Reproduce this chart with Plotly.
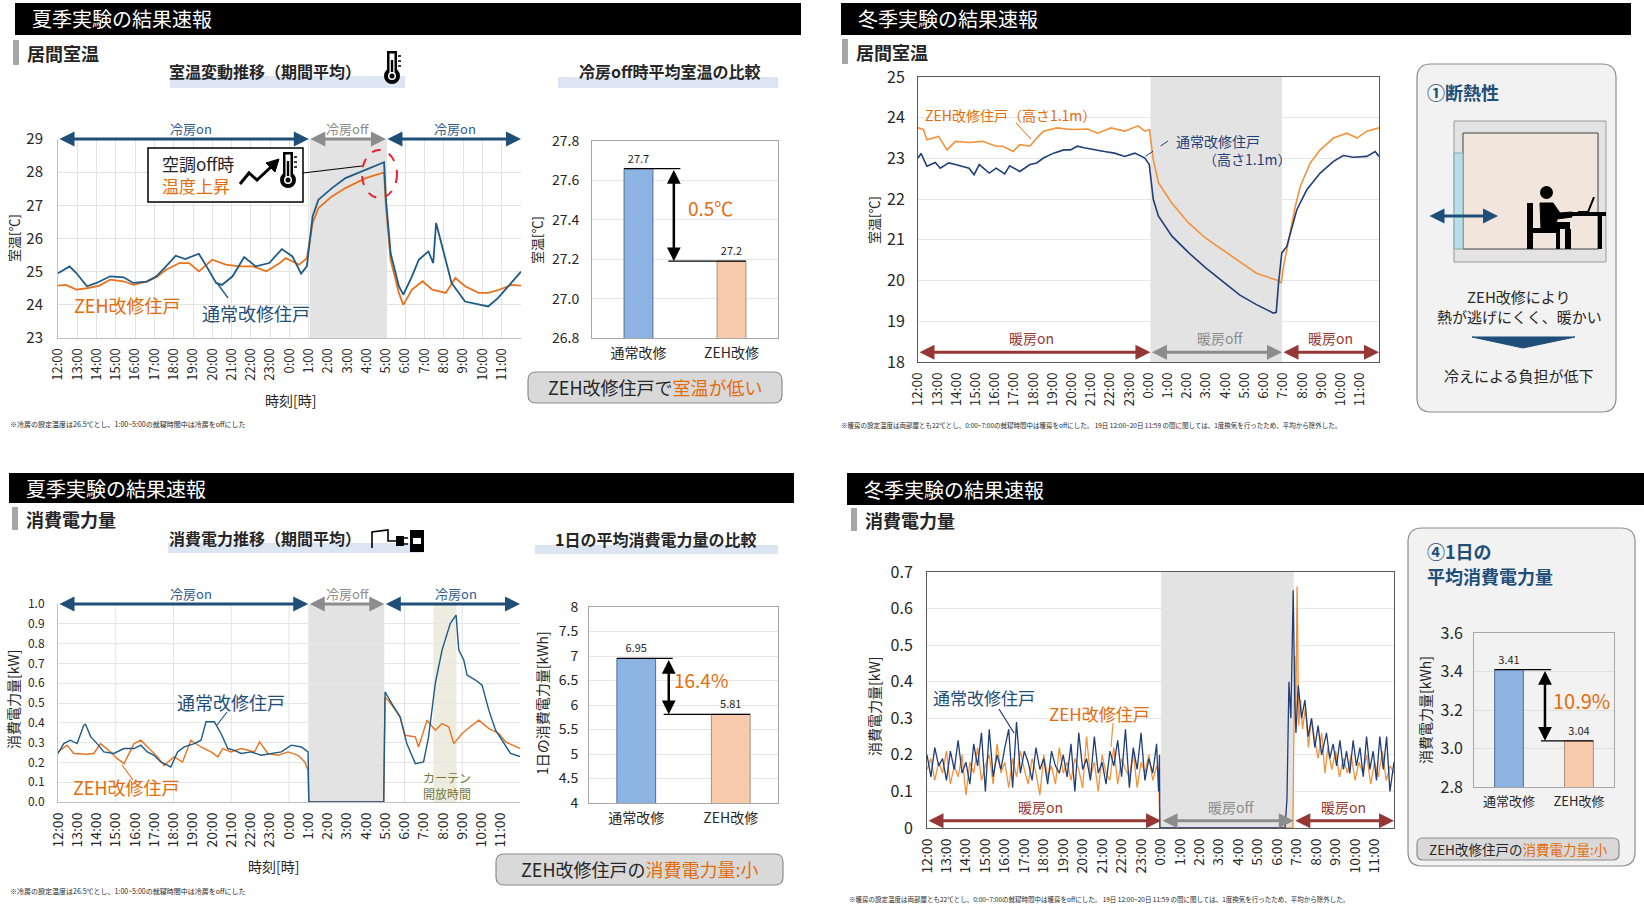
import plotly.graph_objects as go

W, H = 1644, 916
FONT = "Noto Sans CJK JP"
INK = "#262626"

# ---------------- time axis (12:00 -> 11:59 next day) ----------------
hour_ticks = list(range(24))
hour_labels = ["12:00", "13:00", "14:00", "15:00", "16:00", "17:00", "18:00", "19:00",
               "20:00", "21:00", "22:00", "23:00", "0:00", "1:00", "2:00", "3:00",
               "4:00", "5:00", "6:00", "7:00", "8:00", "9:00", "10:00", "11:00"]

# ---------------- summer room temperature [degC] ----------------
s_temp_t_normal = [0, 0.6, 0.95, 1.5, 2.0, 2.7, 3.4, 3.9, 4.6, 5.1, 5.6, 6.1, 6.6, 7.3, 7.7, 8.2,
                   8.5, 9.05, 9.65, 10.25, 10.95, 11.6, 12.15, 12.6, 12.9, 13.2, 13.5, 14.2, 14.9,
                   15.95, 16.9, 17.0, 17.24, 17.67, 17.9, 18.35, 18.7, 19.2, 19.45, 19.6, 19.9,
                   20.4, 21.1, 21.8, 22.3, 22.8, 23.5, 24.0]
s_temp_normal = [24.95, 25.16, 24.96, 24.56, 24.66, 24.86, 24.83, 24.66, 24.7, 24.86, 25.16, 25.48,
                 25.38, 25.54, 25.16, 24.66, 24.6, 24.86, 25.44, 25.16, 25.26, 25.68, 25.46, 24.94,
                 25.16, 26.67, 27.17, 27.52, 27.82, 28.08, 28.3, 27.17, 25.56, 24.56, 24.31, 24.86,
                 25.36, 25.61, 25.26, 26.47, 25.76, 24.66, 24.1, 24.0, 23.95, 24.2, 24.66, 25.0]
s_temp_t_zeh = [0, 0.4, 0.95, 1.5, 2.15, 2.7, 3.4, 3.9, 4.6, 5.1, 5.6, 6.3, 6.8, 7.3, 8.0, 8.7, 9.4,
                10.1, 10.8, 11.5, 11.8, 12.5, 12.9, 13.2, 13.5, 14.2, 14.9, 15.95, 16.9, 17.0,
                17.24, 17.67, 17.9, 18.35, 18.9, 19.4, 20.1, 20.6, 21.1, 21.8, 22.3, 22.8, 23.5, 24.0]
s_temp_zeh = [24.58, 24.6, 24.46, 24.5, 24.58, 24.76, 24.71, 24.6, 24.7, 24.83, 25.06, 25.26, 25.26,
              25.01, 25.36, 25.21, 25.16, 25.16, 25.01, 25.26, 25.41, 25.21, 25.41, 26.47, 26.92,
              27.27, 27.52, 27.82, 27.99, 26.97, 25.36, 24.36, 24.0, 24.46, 24.71, 24.46, 24.36,
              24.81, 24.56, 24.36, 24.36, 24.44, 24.6, 24.58]

# ---------------- winter room temperature at 1.1 m [degC] ----------------
w_temp_t_normal = [0, 0.16, 0.46, 0.9, 1.16, 1.6, 1.95, 2.31, 2.66, 2.92, 3.19, 3.71, 4.07, 4.51,
                   4.77, 5.3, 5.83, 6.18, 6.53, 7.06, 7.59, 7.94, 8.29, 8.64, 9.17, 9.7, 10.23,
                   10.76, 11.29, 11.81, 12.04, 12.25, 12.52, 13.22, 14.1, 14.98, 15.86, 16.74,
                   17.62, 18.5, 18.65, 18.77, 18.94, 19.2, 19.72, 20.24, 20.94, 21.63, 22.14,
                   22.66, 23.37, 23.8, 24.0]
w_temp_normal = [23.01, 23.12, 22.81, 22.9, 22.76, 22.89, 22.85, 22.81, 22.76, 22.6, 22.85, 22.64,
                 22.76, 22.62, 22.82, 22.68, 22.85, 22.89, 23.01, 23.13, 23.21, 23.21, 23.3, 23.26,
                 23.21, 23.17, 23.13, 23.05, 23.13, 23.01, 22.85, 21.99, 21.58, 21.09, 20.68, 20.31,
                 19.98, 19.65, 19.41, 19.2, 19.22, 19.94, 20.68, 20.84, 21.74, 22.23, 22.64, 22.93,
                 23.07, 23.03, 23.05, 23.17, 23.05]
w_temp_t_zeh = [0, 0.28, 0.46, 0.81, 1.07, 1.51, 1.95, 2.66, 3.36, 4.07, 4.42, 4.95, 5.3, 5.83,
                6.18, 6.53, 7.24, 7.94, 8.82, 9.35, 10.05, 10.76, 11.46, 11.81, 12.05, 12.25,
                12.52, 13.22, 14.1, 14.98, 15.86, 16.74, 17.62, 18.75, 18.91, 19.03, 19.38, 19.64,
                19.9, 20.42, 20.94, 21.63, 22.33, 22.85, 23.37, 24.0]
w_temp_zeh = [23.75, 23.71, 23.46, 23.5, 23.54, 23.21, 23.42, 23.39, 23.42, 23.3, 23.3, 23.17,
              23.34, 23.3, 23.5, 23.67, 23.75, 23.71, 23.72, 23.62, 23.75, 23.67, 23.8, 23.67,
              23.71, 22.97, 22.4, 21.9, 21.41, 21.04, 20.76, 20.47, 20.18, 20.0, 19.94, 20.35,
              21.25, 21.82, 22.31, 22.89, 23.21, 23.5, 23.62, 23.5, 23.67, 23.75]

# ---------------- summer power [kW] ----------------
s_pow_t_normal = [0, 0.3, 0.64, 0.99, 1.34, 1.43, 1.7, 2.03, 2.38, 2.9, 3.43, 3.95, 4.3, 4.64,
                  4.99, 5.34, 5.86, 6.21, 6.56, 7.08, 7.43, 7.69, 8.12, 8.47, 8.82, 9.17, 9.51,
                  10.03, 10.56, 11.08, 11.6, 12.12, 12.64, 12.99, 13.03, 16.92, 16.99, 17.34,
                  17.77, 18.12, 18.56, 18.99, 19.25, 19.6, 19.95, 20.38, 20.68, 20.82, 21.08,
                  21.25, 21.69, 22.03, 22.38, 22.73, 23.08, 23.51, 24.0]
s_pow_normal = [0.245, 0.295, 0.312, 0.295, 0.388, 0.393, 0.329, 0.295, 0.253, 0.245, 0.27, 0.27,
                0.287, 0.253, 0.236, 0.202, 0.177, 0.253, 0.278, 0.295, 0.312, 0.405, 0.405,
                0.346, 0.27, 0.261, 0.245, 0.253, 0.236, 0.245, 0.253, 0.287, 0.278, 0.253, 0.0,
                0.0, 0.556, 0.497, 0.43, 0.295, 0.194, 0.202, 0.329, 0.599, 0.767, 0.902, 0.944,
                0.767, 0.717, 0.641, 0.616, 0.59, 0.464, 0.363, 0.312, 0.245, 0.23]
s_pow_t_zeh = [0, 0.47, 0.82, 1.51, 1.86, 2.21, 2.73, 3.08, 3.43, 3.95, 4.3, 4.64, 5.17, 5.51,
               6.03, 6.47, 6.9, 7.43, 7.95, 8.3, 8.56, 8.99, 9.51, 10.21, 10.47, 10.9, 11.43,
               11.95, 12.47, 12.82, 12.99, 13.03, 16.92, 16.99, 17.34, 17.77, 18.03, 18.56,
               18.73, 19.17, 19.6, 19.95, 20.3, 20.56, 20.99, 21.51, 21.86, 22.38, 22.9, 23.25,
               23.6, 24.0]
s_pow_zeh = [0.253, 0.287, 0.245, 0.241, 0.245, 0.295, 0.253, 0.219, 0.194, 0.295, 0.312, 0.278,
             0.228, 0.185, 0.228, 0.202, 0.312, 0.278, 0.253, 0.228, 0.27, 0.253, 0.27, 0.253,
             0.304, 0.245, 0.236, 0.253, 0.236, 0.202, 0.16, 0.0, 0.0, 0.531, 0.489, 0.43, 0.337,
             0.329, 0.278, 0.413, 0.363, 0.396, 0.379, 0.295, 0.346, 0.388, 0.413, 0.371, 0.346,
             0.304, 0.287, 0.27]

# ---------------- winter power [kW] ----------------
w_pow_t_on = [round(0.2 * i, 1) for i in range(60)]   # 12-minute samples 12:00-23:48
w_pow_normal_on = [0.20, 0.14, 0.22, 0.17, 0.19, 0.13, 0.21, 0.16, 0.24, 0.15,
                   0.18, 0.12, 0.23, 0.17, 0.26, 0.10, 0.27, 0.14, 0.20, 0.16,
                   0.22, 0.27, 0.11, 0.29, 0.15, 0.21, 0.18, 0.13, 0.22, 0.16,
                   0.19, 0.12, 0.21, 0.17, 0.15, 0.20, 0.14, 0.23, 0.10, 0.26,
                   0.16, 0.19, 0.13, 0.25, 0.15, 0.18, 0.12, 0.21, 0.17, 0.24,
                   0.14, 0.27, 0.11, 0.22, 0.16, 0.26, 0.13, 0.19, 0.15, 0.23]
w_pow_zeh_on = [0.16, 0.19, 0.13, 0.18, 0.15, 0.21, 0.12, 0.17, 0.14, 0.20,
                0.09, 0.18, 0.15, 0.22, 0.13, 0.17, 0.20, 0.12, 0.23, 0.15,
                0.18, 0.11, 0.19, 0.14, 0.21, 0.16, 0.12, 0.19, 0.15, 0.09,
                0.20, 0.14, 0.17, 0.12, 0.22, 0.15, 0.18, 0.13, 0.19, 0.16,
                0.11, 0.25, 0.14, 0.18, 0.10, 0.20, 0.15, 0.13, 0.22, 0.12,
                0.19, 0.16, 0.14, 0.21, 0.11, 0.18, 0.15, 0.20, 0.13, 0.17]
w_pow_t_normal_tail = [11.9, 11.95, 11.97, 18.4, 18.5, 18.6, 18.7, 18.82, 18.9, 18.96, 19.08,
                       19.25, 19.42, 19.59, 19.76, 19.93, 20.1, 20.28, 20.53, 20.7, 20.87, 21.05,
                       21.22, 21.4, 21.56, 21.73, 21.9, 22.07, 22.25, 22.42, 22.59, 22.76, 22.93,
                       23.1, 23.27, 23.45, 23.62, 23.79, 24.0]
w_pow_normal_tail = [0.10, 0.20, 0.0, 0.0, 0.08, 0.40, 0.30, 0.65, 0.35, 0.26, 0.39, 0.30, 0.35,
                     0.25, 0.30, 0.22, 0.28, 0.20, 0.26, 0.19, 0.23, 0.17, 0.24, 0.16, 0.21, 0.15,
                     0.24, 0.17, 0.22, 0.14, 0.25, 0.16, 0.21, 0.13, 0.25, 0.16, 0.25, 0.10, 0.18]
w_pow_t_zeh_tail = [11.9, 11.97, 18.8, 18.85, 18.9, 18.95, 19.02, 19.1, 19.2, 19.3, 19.45, 19.6,
                    19.76, 19.93, 20.1, 20.28, 20.45, 20.6, 20.8, 21.0, 21.2, 21.4, 21.6, 21.8,
                    22.0, 22.2, 22.4, 22.6, 22.8, 23.0, 23.2, 23.4, 23.6, 23.8, 24.0]
w_pow_zeh_tail = [0.15, 0.0, 0.0, 0.20, 0.47, 0.30, 0.66, 0.28, 0.35, 0.27, 0.33, 0.22, 0.30,
                  0.24, 0.19, 0.26, 0.15, 0.22, 0.16, 0.21, 0.14, 0.19, 0.15, 0.20, 0.13, 0.18,
                  0.15, 0.20, 0.12, 0.18, 0.14, 0.21, 0.13, 0.17, 0.15]

# ---------------- bar comparisons ----------------
bar_categories = ["通常改修", "ZEH改修"]
off_temp_means = [27.66, 27.19]
off_temp_labels = ["27.7", "27.2"]
summer_daily_kwh = [6.95, 5.81]
winter_daily_kwh = [3.41, 3.04]
diff_labels = ["0.5℃", "16.4%", "10.9%"]

# ---------------- colours ----------------
S_BLUE, S_ORANGE = "#1d5b86", "#e8731f"
W_BLUE, W_ORANGE = "#1f3f78", "#f4923c"
TXT_ORANGE, TXT_BLUE = "#e46c0a", "#1f4e79"
AR_BLUE, AR_GRAY, AR_RED = "#1f4e79", "#8c8c8c", "#953735"
BAR_FILL = ["#8db3e2", "#f8cbad"]
BAR_EDGE = ["#4f6f96", "#a09080"]
SHADE = "#e3e3e3"

shapes, notes = [], []


def P(x, y):
    return f"{x / W:.5f},{1 - y / H:.5f}"


def rect(x0, y0, x1, y1, fill, line=None, width=1, layer="above", kind="rect", dash=None):
    shapes.append(dict(type=kind, xref="paper", yref="paper", x0=x0 / W, x1=x1 / W,
                       y0=1 - y1 / H, y1=1 - y0 / H, fillcolor=fill, layer=layer,
                       line=dict(color=line or "rgba(0,0,0,0)", width=width if line else 0, dash=dash)))


def path(pts, color, width=1, dash=None, closed=False, fill=None, layer="above"):
    d = "M " + " L ".join(P(x, y) for x, y in pts) + (" Z" if closed else "")
    shapes.append(dict(type="path", xref="paper", yref="paper", path=d, layer=layer,
                       fillcolor=fill or "rgba(0,0,0,0)",
                       line=dict(color=color, width=width, dash=dash)))


def rounded(x0, y0, x1, y1, r, fill, line, width=1.2):
    d = (f"M {P(x0 + r, y0)} L {P(x1 - r, y0)} Q {P(x1, y0)} {P(x1, y0 + r)} "
         f"L {P(x1, y1 - r)} Q {P(x1, y1)} {P(x1 - r, y1)} L {P(x0 + r, y1)} "
         f"Q {P(x0, y1)} {P(x0, y1 - r)} L {P(x0, y0 + r)} Q {P(x0, y0)} {P(x0 + r, y0)} Z")
    shapes.append(dict(type="path", xref="paper", yref="paper", path=d, fillcolor=fill,
                       line=dict(color=line, width=width), layer="below"))


def label(x, y, s, size=14, color=INK, anchor="left", angle=0):
    notes.append(dict(xref="paper", yref="paper", x=x / W, y=1 - y / H, text=s, showarrow=False,
                      xanchor=anchor, yanchor="middle", textangle=angle,
                      font=dict(family=FONT, size=size, color=color)))


def span_arrow(xa, ya, t0, t1, yv, color, width=3):
    notes.append(dict(xref=xa, yref=ya, axref=xa, ayref=ya, x=t1, y=yv, ax=t0, ay=yv, text="",
                      showarrow=True, arrowhead=2, startarrowhead=2, arrowside="end+start",
                      arrowsize=1, startarrowsize=1, arrowwidth=width, arrowcolor=color,
                      standoff=0, startstandoff=0))


def span_label(xa, t, y_px, s, color, size=13):
    notes.append(dict(xref=xa, yref="paper", x=t, y=1 - y_px / H, text=s, showarrow=False,
                      xanchor="center", yanchor="middle",
                      font=dict(family=FONT, size=size, color=color)))


def shade(xa, ya, t0, t1, color=SHADE):
    shapes.append(dict(type="rect", xref=xa, yref=ya + " domain", x0=t0, x1=t1, y0=0, y1=1,
                       fillcolor=color, line=dict(width=0), layer="below"))


def diff_marks(xa, ya, vals, upper, lower, arrow_x):
    for (a, b), v in ((upper, vals[0]), (lower, vals[1])):
        shapes.append(dict(type="line", xref=xa, yref=ya, x0=a, x1=b, y0=v, y1=v,
                           line=dict(color="black", width=1.3)))
    notes.append(dict(xref=xa, yref=ya, axref=xa, ayref=ya, x=arrow_x, y=vals[1], ax=arrow_x,
                      ay=vals[0], text="", showarrow=True, arrowhead=2, startarrowhead=2,
                      arrowside="end+start", arrowsize=1.1, startarrowsize=1.1, arrowwidth=2.5,
                      arrowcolor="black", standoff=0, startstandoff=0))


def thermometer(cx, top, bottom):
    rect(cx - 5, top, cx + 5, bottom - 8, "black", layer="above")
    rect(cx - 8, bottom - 16, cx + 8, bottom, "black", kind="circle", layer="above")
    rect(cx - 2.5, top + 2.5, cx + 2.5, bottom - 10, "white", layer="above")
    rect(cx - 1.2, top + 9, cx + 1.2, bottom - 8, "black", layer="above")
    rect(cx - 4, bottom - 12, cx + 4, bottom - 4, "white", kind="circle", layer="above")
    rect(cx - 2.5, bottom - 10.5, cx + 2.5, bottom - 5.5, "black", kind="circle", layer="above")
    for k in range(3):
        path([(cx + 6, top + 5 + 5 * k), (cx + 9, top + 5 + 5 * k)], "black", 1.5)


# ---------------- axes ----------------
layout_axes = {}


def add_axes(n, box, xopts, yopts):
    x0, x1, y0, y1 = box
    s = "" if n == 1 else str(n)
    layout_axes["xaxis" + s] = dict(domain=[x0 / W, x1 / W], anchor="y" + s, zeroline=False,
                                    fixedrange=True, ticks="", automargin=False, **xopts)
    layout_axes["yaxis" + s] = dict(domain=[1 - y1 / H, 1 - y0 / H], anchor="x" + s,
                                    zeroline=False, fixedrange=True, ticks="", automargin=False,
                                    **yopts)


def tf(size):
    return dict(family=FONT, size=size, color="#262626")


def time_axis(size, grid, line, mirror, gap=4):
    return dict(range=[0, 24], tickmode="array", tickvals=hour_ticks, ticktext=hour_labels,
                tickangle=-90, showgrid=grid, gridcolor="#e3e3e3", showline=True,
                linecolor=line, mirror=mirror, tickfont=tf(size), ticklabelstandoff=gap)


def bar_axis(size):
    return dict(type="category", range=[-0.5, 1.5], showgrid=False, showline=True,
                linecolor="#a6a6a6", mirror=True, tickfont=tf(size), ticklabelstandoff=2)


add_axes(1, (58, 521, 139, 338), time_axis(13, True, "#bfbfbf", False),
         dict(range=[23, 29], dtick=1, showgrid=True, gridcolor="#e3e3e3", showline=True,
              linecolor="#bfbfbf", tickfont=tf(15), ticklabelstandoff=11))
add_axes(2, (592, 778, 141, 338), bar_axis(14),
         dict(range=[26.8, 27.8], dtick=0.2, tickformat=".1f", gridcolor="#e6e6e6",
              showline=True, linecolor="#a6a6a6", mirror=True, tickfont=tf(14),
              ticklabelstandoff=9))
add_axes(3, (918, 1379, 77, 362), time_axis(13.5, False, "#595959", True),
         dict(range=[18, 25], dtick=1, gridcolor="#e6e6e6", showline=True, linecolor="#595959",
              mirror=True, tickfont=tf(16), ticklabelstandoff=9))
add_axes(4, (58, 520, 604, 802), time_axis(14, False, "#bfbfbf", False),
         dict(range=[0, 1], dtick=0.1, tickformat=".1f", gridcolor="#e6e6e6", showline=True,
              linecolor="#bfbfbf", tickfont=tf(12), ticklabelstandoff=10))
add_axes(5, (589, 778, 607, 803), bar_axis(14),
         dict(range=[4, 8], dtick=0.5, gridcolor="#e6e6e6", showline=True, linecolor="#a6a6a6",
              mirror=True, tickfont=tf(14), ticklabelstandoff=7))
add_axes(6, (927, 1394, 572, 828), time_axis(14, False, "#595959", True),
         dict(range=[0, 0.7], dtick=0.1, gridcolor="#e6e6e6", showline=True, linecolor="#595959",
              mirror=True, tickfont=tf(16), ticklabelstandoff=10))
add_axes(7, (1474, 1614, 633, 787), bar_axis(13),
         dict(range=[2.8, 3.6], dtick=0.2, tickformat=".1f", gridcolor="#e0e0e0",
              showline=True, linecolor="#a6a6a6", mirror=True, tickfont=tf(16),
              ticklabelstandoff=7))

# ---------------- traces ----------------
fig = go.Figure()


def line(xs, ys, color, width, n):
    s = "" if n == 1 else str(n)
    fig.add_trace(go.Scatter(x=xs, y=ys, mode="lines", line=dict(color=color, width=width),
                             xaxis="x" + s, yaxis="y" + s, hoverinfo="skip", showlegend=False))


def bars(vals, texts, width, n):
    s = str(n)
    fig.add_trace(go.Bar(x=bar_categories, y=vals, width=width, text=texts,
                         textposition="outside", constraintext="none", cliponaxis=False,
                         textfont=dict(family=FONT, size=11, color=INK),
                         marker=dict(color=BAR_FILL, line=dict(color=BAR_EDGE, width=1)),
                         xaxis="x" + s, yaxis="y" + s, hoverinfo="skip", showlegend=False))


line(s_temp_t_zeh, s_temp_zeh, S_ORANGE, 1.8, 1)
line(s_temp_t_normal, s_temp_normal, S_BLUE, 1.8, 1)
line(w_temp_t_zeh, w_temp_zeh, W_ORANGE, 1.6, 3)
line(w_temp_t_normal, w_temp_normal, W_BLUE, 1.6, 3)
line(s_pow_t_zeh, s_pow_zeh, S_ORANGE, 1.4, 4)
line(s_pow_t_normal, s_pow_normal, S_BLUE, 1.4, 4)
line(w_pow_t_on + w_pow_t_zeh_tail, w_pow_zeh_on + w_pow_zeh_tail, W_ORANGE, 1.3, 6)
line(w_pow_t_on + w_pow_t_normal_tail, w_pow_normal_on + w_pow_normal_tail, W_BLUE, 1.3, 6)
bars(off_temp_means, off_temp_labels, 0.31, 2)
bars(summer_daily_kwh, [f"{v:.2f}" for v in summer_daily_kwh], 0.41, 5)
bars(winter_daily_kwh, [f"{v:.2f}" for v in winter_daily_kwh], 0.41, 7)

# ---------------- panel frames ----------------
for x0, y0, x1, y1, title in ((15, 3, 801, 35, "夏季実験の結果速報"), (841, 3, 1631, 35, "冬季実験の結果速報"),
                               (9, 473, 794, 503, "夏季実験の結果速報"), (847, 473, 1644, 505, "冬季実験の結果速報")):
    rect(x0, y0, x1, y1, "black", layer="below")
    label(x0 + 15, (y0 + y1) / 2, title, 20, "white")

for x, y0, y1, title in ((13, 40, 65, "居間室温"), (842, 39, 64, "居間室温"),
                         (12, 507, 530, "消費電力量"), (851, 508, 531, "消費電力量")):
    rect(x, y0, x + 6, y1, "#a6a6a6", layer="below")
    label(x + 12, (y0 + y1) / 2, "<b>" + title + "</b>", 18)

for x0, x1, y0, y1, cx, yt, title in ((170, 405, 76, 88, 265, 71, "室温変動推移（期間平均）"),
                                       (558, 778, 77, 88, 669, 71, "冷房off時平均室温の比較"),
                                       (168, 423, 543, 553, 265, 538, "消費電力推移（期間平均）"),
                                       (535, 778, 545, 554, 655, 539, "1日の平均消費電力量の比較")):
    rect(x0, y0, x1, y1, "#dce6f2", layer="below")
    label(cx, yt, "<b>" + title + "</b>", 16, anchor="center")

thermometer(392, 51, 84)
# plug icon
path([(372, 548), (372, 532), (388, 530), (388, 541), (396, 541)], "black", 1.6)
rect(396, 536, 404, 546, "black")
path([(404, 538), (408, 538)], "black", 1.5)
path([(404, 544), (408, 544)], "black", 1.5)
rect(410, 530, 424, 552, "black")
rect(413, 538, 421, 544, "white")

# ---------------- summer temperature chart ----------------
shade("x", "y", 13.05, 17.05)
span_arrow("x", "y", 0, 13, 29, AR_BLUE)
span_arrow("x", "y", 13, 17, 29, AR_GRAY)
span_arrow("x", "y", 17, 24, 29, AR_BLUE)
span_label("x", 6.9, 128, "冷房on", "#2f5c8f")
span_label("x", 15.0, 128, "冷房off", AR_GRAY)
span_label("x", 20.6, 128, "冷房on", "#2f5c8f")
rect(148, 148, 303, 202, "white", "black", 1.5)
label(160, 163, "空調off時", 17)
label(160, 185, "温度上昇", 17, TXT_ORANGE)
path([(240, 184), (249, 173), (257, 180), (272, 166)], "black", 3)
path([(266, 163), (279, 159), (275, 172)], "black", 1, closed=True, fill="black")
thermometer(288, 152, 188)
path([(303, 173), (362, 166)], "black", 1)
rect(362, 150, 397, 198, "rgba(0,0,0,0)", "#e8212b", 2, kind="circle", dash="dash")
label(72, 305, "ZEH改修住戸", 18, TXT_ORANGE)
label(200, 313, "通常改修住戸", 18, TXT_BLUE)
path([(217, 283), (228, 298)], S_BLUE, 1.3)
label(13, 238, "室温[℃]", 13, angle=-90, anchor="center")
label(290, 400, "時刻[時]", 14, anchor="center")
label(8, 424, "※冷房の設定温度は26.5℃とし、1:00~5:00の就寝時間中は冷房をoffにした", 7)

# summer temperature bars
diff_marks("x2", "y2", off_temp_means, (-0.155, 0.45), (0.32, 1.155), 0.38)
notes.append(dict(xref="x2", yref="y2", x=0.77, y=27.46, text=diff_labels[0], showarrow=False,
                  font=dict(family=FONT, size=19, color=TXT_ORANGE)))
label(537, 240, "室温[℃]", 13, angle=-90, anchor="center")
rounded(528, 372, 782, 403, 8, "#d9d9d9", "#8c8c8c")
label(655, 387, "ZEH改修住戸で<span style='color:#e46c0a'>室温が低い</span>", 18, anchor="center")

# ---------------- winter temperature chart ----------------
shade("x3", "y3", 12.1, 18.95)
span_arrow("x3", "y3", 0, 12.1, 18.24, AR_RED)
span_arrow("x3", "y3", 12.1, 18.95, 18.24, AR_GRAY)
span_arrow("x3", "y3", 18.95, 24, 18.24, AR_RED)
span_label("x3", 5.9, 338, "暖房on", AR_RED, 14)
span_label("x3", 15.7, 338, "暖房off", AR_GRAY, 14)
span_label("x3", 21.5, 338, "暖房on", AR_RED, 14)
label(923, 115, "ZEH改修住戸（高さ1.1m）", 14, TXT_ORANGE)
path([(1016, 123), (1031, 139)], TXT_ORANGE, 1)
label(1174, 141, "通常改修住戸", 14, W_BLUE)
label(1201, 159, "（高さ1.1m）", 14, W_BLUE)
path([(1168, 141), (1143, 158)], W_BLUE, 1, dash="dash")
label(873, 220, "室温[℃]", 13, angle=-90, anchor="center")
label(839, 425, "※暖房の設定温度は両部屋とも22℃とし、0:00~7:00の就寝時間中は暖房をoffにした。 "
      "19日 12:00~20日 11:59 の間に関しては、1度換気を行ったため、平均から除外した。", 6.5)

# insulation info box
rounded(1417, 64, 1616, 412, 14, "#f2f2f2", "#8c8c8c")
label(1425, 92, "<b>①断熱性</b>", 18, TXT_BLUE)
rect(1454, 121, 1606, 262, "#e3e3e3", "#9a9a9a", 1)
rect(1463, 133, 1598, 249, "#f2e6dc", "#404040", 1)
rect(1454, 153, 1463, 249, "#b7dde8", "#8aa", 1)
notes.append(dict(xref="paper", yref="paper", x=1498 / W, y=1 - 216 / H, ax=-70, ay=0,
                  axref="pixel", ayref="pixel", text="", showarrow=True, arrowhead=2,
                  startarrowhead=2, arrowside="end+start", arrowsize=1, startarrowsize=1,
                  arrowwidth=3, arrowcolor=TXT_BLUE, standoff=0, startstandoff=0))
# seated person at a desk
rect(1540, 186, 1553, 199, "black", kind="circle")
path([(1540, 203), (1553, 203), (1560, 213), (1572, 212), (1572, 217), (1557, 219),
      (1556, 228), (1541, 229)], "black", 1, closed=True, fill="black")
rect(1527, 203, 1533, 249, "black")
rect(1527, 228, 1560, 233, "black")
rect(1556, 233, 1560, 249, "black")
rect(1541, 222, 1570, 229, "black")
rect(1565, 229, 1571, 249, "black")
rect(1572, 212, 1606, 216, "black")
rect(1598, 216, 1602, 249, "black")
path([(1578, 212), (1588, 212), (1594, 197)], "black", 2)
label(1519, 296, "ZEH改修により", 15, anchor="center")
label(1519, 316, "熱が逃げにくく、暖かい", 15, anchor="center")
path([(1472, 337), (1575, 337), (1523, 348)], TXT_BLUE, 1, closed=True, fill=TXT_BLUE)
label(1519, 375, "冷えによる負担が低下", 15, anchor="center")

# ---------------- summer power chart ----------------
shade("x4", "y4", 13.0, 16.95)
shade("x4", "y4", 19.5, 20.7, "#eeebdf")
for h in (3, 6, 9, 12, 15, 18, 21):
    shapes.append(dict(type="line", xref="x4", yref="y4 domain", x0=h, x1=h, y0=0, y1=1,
                       line=dict(color="#e3e3e3", width=1), layer="below"))
span_arrow("x4", "y4", 0, 13, 1.0, AR_BLUE)
span_arrow("x4", "y4", 13, 16.95, 1.0, AR_GRAY)
span_arrow("x4", "y4", 16.95, 24, 1.0, AR_BLUE)
span_label("x4", 6.9, 593, "冷房on", "#2f5c8f")
span_label("x4", 15.05, 593, "冷房off", AR_GRAY)
span_label("x4", 20.7, 593, "冷房on", "#2f5c8f")
label(175, 702, "通常改修住戸", 18, TXT_BLUE)
path([(227, 712), (217, 725)], S_BLUE, 1.2)
label(71, 787, "ZEH改修住戸", 18, TXT_ORANGE)
path([(122, 765), (133, 780)], S_ORANGE, 1.2)
label(447, 777, "カーテン", 12, "#76793a", anchor="center")
label(447, 793, "開放時間", 12, "#76793a", anchor="center")
label(13, 700, "消費電力量[kW]", 14, angle=-90, anchor="center")
label(273, 866, "時刻[時]", 14, anchor="center")
label(8, 891, "※冷房の設定温度は26.5℃とし、1:00~5:00の就寝時間中は冷房をoffにした", 7)

# summer power bars
diff_marks("x5", "y5", summer_daily_kwh, (-0.205, 0.386), (0.29, 1.205), 0.344)
notes.append(dict(xref="x5", yref="y5", x=0.68, y=6.52, text=diff_labels[1], showarrow=False,
                  font=dict(family=FONT, size=19, color=TXT_ORANGE)))
label(542, 703, "1日の消費電力量[kWh]", 14, angle=-90, anchor="center")
rounded(496, 854, 783, 885, 8, "#d9d9d9", "#8c8c8c")
label(640, 869, "ZEH改修住戸の<span style='color:#e46c0a'>消費電力量:小</span>", 18, anchor="center")

# ---------------- winter power chart ----------------
shade("x6", "y6", 12.03, 18.85)
span_arrow("x6", "y6", 0, 12.03, 0.02, AR_RED)
span_arrow("x6", "y6", 12.03, 18.85, 0.02, AR_GRAY)
span_arrow("x6", "y6", 18.85, 24, 0.02, AR_RED)
span_label("x6", 5.85, 807, "暖房on", AR_RED, 14)
span_label("x6", 15.6, 807, "暖房off", AR_GRAY, 14)
span_label("x6", 21.4, 807, "暖房on", AR_RED, 14)
label(931, 697, "通常改修住戸", 17, TXT_BLUE)
path([(999, 709), (1014, 733)], W_BLUE, 1.2)
label(1047, 713, "ZEH改修住戸", 17, TXT_ORANGE)
path([(1113, 723), (1111, 747)], W_ORANGE, 1.2)
label(874, 706, "消費電力量[kW]", 14, angle=-90, anchor="center")
label(847, 899, "※暖房の設定温度は両部屋とも22℃とし、0:00~7:00の就寝時間中は暖房をoffにした。 "
      "19日 12:00~20日 11:59 の間に関しては、1度換気を行ったため、平均から除外した。", 6.5)

# daily power info box
rounded(1408, 528, 1635, 866, 14, "#f2f2f2", "#8c8c8c")
label(1425, 551, "<b>④1日の</b>", 18, TXT_BLUE)
label(1425, 576, "<b>平均消費電力量</b>", 18, TXT_BLUE)
diff_marks("x7", "y7", winter_daily_kwh, (-0.205, 0.6), (0.457, 1.205), 0.514)
notes.append(dict(xref="x7", yref="y7", x=1.03, y=3.25, text=diff_labels[2], showarrow=False,
                  font=dict(family=FONT, size=20, color=TXT_ORANGE)))
label(1425, 710, "消費電力量[kWh]", 14, angle=-90, anchor="center")
rounded(1417, 838, 1619, 860, 6, "#d9d9d9", "#8c8c8c")
label(1518, 849, "ZEH改修住戸の<span style='color:#e46c0a'>消費電力量:小</span>", 13.5, anchor="center")

fig.update_layout(width=W, height=H, margin=dict(l=0, r=0, t=0, b=0, pad=0, autoexpand=False),
                  paper_bgcolor="white", plot_bgcolor="rgba(0,0,0,0)", showlegend=False,
                  hovermode=False, bargap=0.2, shapes=shapes, annotations=notes,
                  font=dict(family=FONT, color=INK), **layout_axes)

fig.write_html("out.html", config={"displayModeBar": False},
               post_script="document.body.style.margin='0';document.body.style.overflow='hidden';")
